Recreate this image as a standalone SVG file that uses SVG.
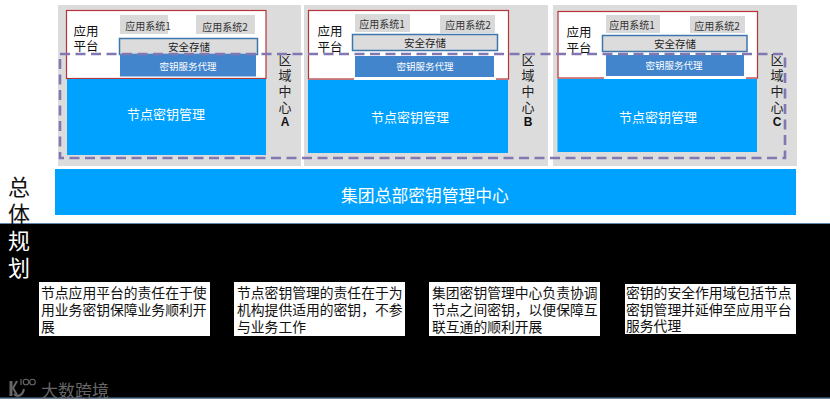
<svg xmlns="http://www.w3.org/2000/svg" width="830" height="404" viewBox="0 0 830 404">
<style>
text{font-family:"Noto Sans CJK SC","Liberation Sans",sans-serif;text-anchor:middle;dominant-baseline:central}
.zone{fill:#dcdcdc}
.plat{fill:#fff;stroke:#b5343a;stroke-width:1.2}
.node{fill:#00a2ff}
.sys{fill:#d9d9d9}
.safe{fill:#dcdcdc;stroke:#3f77ad;stroke-width:1.5}
.key{fill:#4285cd}
.t10{font-size:10px;fill:#333}
.safe-t{font-size:10.5px;fill:#222}
.key-t{font-size:9.5px;fill:#fff}
.node-t{font-size:13px;fill:#fff}
.lab{font-size:12.5px;fill:#111}
.side{font-size:13px;fill:#222}
.letter{font-family:"Liberation Sans",sans-serif;font-weight:bold;font-size:12px;fill:#111}
.note{fill:#fff}
.note-t{font-size:13.8px;fill:#111;text-anchor:start}
.dash{fill:none;stroke:#8377b3;stroke-width:2.6;stroke-dasharray:10 5.5}
</style>
<rect width="830" height="404" fill="#fff"/>
<g id="band-black">
<rect x="0" y="223" width="830" height="175.500" fill="#000"/>
<path d="M0 223.500H830M0 398H830" stroke="#5f86b0" stroke-width="1" fill="none"/>
</g>
<g id="zone-a">
<rect class="zone" x="58" y="5" width="243" height="161"/>
<rect class="plat" x="66.500" y="10.500" width="199.500" height="68"/>
<rect class="node" x="67" y="79" width="199" height="76"/>
<rect class="sys" x="120" y="15" width="48" height="19"/><text class="t10" x="148" y="25">应用系统1</text>
<rect class="sys" x="196" y="15" width="59" height="19"/><text class="t10" x="225" y="26">应用系统2</text>
<rect class="safe" x="119.500" y="38.500" width="138" height="16"/><text class="safe-t" x="189" y="46">安全存储</text>
<rect class="key" x="120" y="54" width="136" height="22.500"/><text class="key-t" x="188" y="66">密钥服务代理</text>
<text class="node-t" x="166" y="113">节点密钥管理</text>
<text class="lab" x="86" y="30">应用</text><text class="lab" x="86" y="45">平台</text>
<text class="side" x="285" y="58">区</text><text class="side" x="285" y="74">域</text><text class="side" x="285" y="90">中</text><text class="side" x="285" y="106">心</text><text class="letter" x="285" y="122">A</text>
</g>
<g id="zone-b">
<rect class="zone" x="304" y="5" width="244" height="161"/>
<rect class="plat" x="308.500" y="10.500" width="200" height="68.500"/>
<rect x="354" y="54" width="142" height="26" fill="#fff"/>
<rect class="node" x="308" y="80" width="200" height="73"/>
<rect class="sys" x="355" y="14" width="55" height="18"/><text class="t10" x="382" y="23">应用系统1</text>
<rect class="sys" x="440" y="15" width="55" height="18"/><text class="t10" x="468" y="24">应用系统2</text>
<rect class="safe" x="352.500" y="34.500" width="145" height="16"/><text class="safe-t" x="425" y="42">安全存储</text>
<rect class="key" x="355" y="56" width="139" height="21"/><text class="key-t" x="425" y="66">密钥服务代理</text>
<text class="node-t" x="410" y="116">节点密钥管理</text>
<text class="lab" x="330" y="30">应用</text><text class="lab" x="330" y="46">平台</text>
<text class="side" x="528" y="58">区</text><text class="side" x="528" y="74">域</text><text class="side" x="528" y="90">中</text><text class="side" x="528" y="106">心</text><text class="letter" x="528" y="122">B</text>
</g>
<g id="zone-c">
<rect class="zone" x="553" y="5" width="244" height="161"/>
<rect class="plat" x="558" y="11.500" width="199.500" height="66.500"/>
<rect x="604" y="54" width="142" height="25" fill="#fff"/>
<rect class="node" x="557.500" y="79" width="199.500" height="73"/>
<rect class="sys" x="606" y="15" width="54" height="18"/><text class="t10" x="632" y="24">应用系统1</text>
<rect class="sys" x="690" y="16" width="55" height="17"/><text class="t10" x="717" y="25">应用系统2</text>
<rect class="safe" x="602.500" y="35.500" width="144.500" height="16"/><text class="safe-t" x="675" y="43">安全存储</text>
<rect class="key" x="606" y="55" width="138" height="21"/><text class="key-t" x="674" y="65">密钥服务代理</text>
<text class="node-t" x="658" y="116">节点密钥管理</text>
<text class="lab" x="579" y="31">应用</text><text class="lab" x="579" y="47">平台</text>
<text class="side" x="777" y="58">区</text><text class="side" x="777" y="74">域</text><text class="side" x="777" y="90">中</text><text class="side" x="777" y="106">心</text><text class="letter" x="777" y="122">C</text>
</g>
<g id="connectors">
<rect class="dash" x="60" y="54" width="725" height="104"/>
</g>
<g id="hq">
<rect x="55" y="169" width="741" height="46" fill="#00a2ff"/>
<text x="425" y="195" font-size="16.800" fill="#fff">集团总部密钥管理中心</text>
</g>
<g id="title">
<text x="19" y="185" font-size="22" fill="#111">总</text>
<text x="19" y="212" font-size="22" fill="#111">体</text>
<text x="19" y="239" font-size="22" fill="#fff">规</text>
<text x="19" y="266" font-size="22" fill="#fff">划</text>
</g>
<g id="note-1">
<rect class="note" x="39" y="282" width="171" height="54"/>
<text class="note-t" x="41" y="292">节点应用平台的责任在于使</text>
<text class="note-t" x="41" y="309">用业务密钥保障业务顺利开</text>
<text class="note-t" x="41" y="326">展</text>
</g>
<g id="note-2">
<rect class="note" x="234" y="282" width="171" height="54"/>
<text class="note-t" x="237" y="292">节点密钥管理的责任在于为</text>
<text class="note-t" x="237" y="309">机构提供适用的密钥，不参</text>
<text class="note-t" x="237" y="326">与业务工作</text>
</g>
<g id="note-3">
<rect class="note" x="429" y="282" width="171" height="54"/>
<text class="note-t" x="432" y="292">集团密钥管理中心负责协调</text>
<text class="note-t" x="432" y="309">节点之间密钥，以便保障互</text>
<text class="note-t" x="432" y="326">联互通的顺利开展</text>
</g>
<g id="note-4">
<rect class="note" x="625" y="284" width="171" height="50"/>
<text class="note-t" x="626" y="292">密钥的安全作用域包括节点</text>
<text class="note-t" x="626" y="309">密钥管理并延伸至应用平台</text>
<text class="note-t" x="626" y="325">服务代理</text>
</g>
<g id="logo" fill="none" stroke="#666">
<path d="M11 381V396" stroke-width="3"/>
<path d="M17 381L13 388L17 395" stroke-width="2"/>
<path d="M14 394C18 398 23 395 24 389" stroke-width="2"/>
<path d="M21 379V385" stroke-width="1.200"/>
<circle cx="26" cy="382" r="2.800" stroke-width="1.100"/>
<circle cx="32.500" cy="382" r="2.800" stroke-width="1.100"/>
<text x="75" y="389" font-size="17" fill="#666" stroke="none">大数跨境</text>
</g>
</svg>
